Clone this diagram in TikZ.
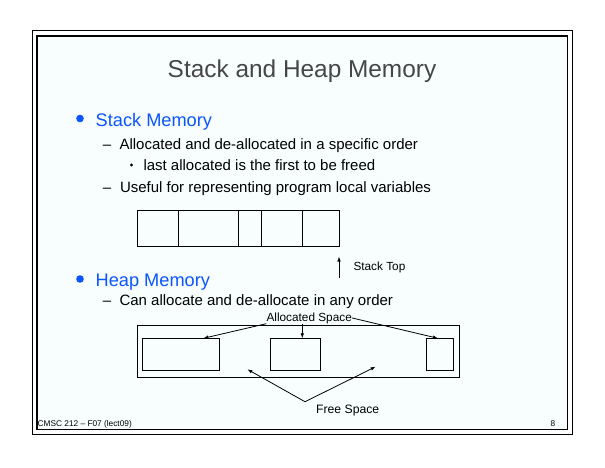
\documentclass[tikz,border=0pt]{standalone}
\usepackage{fontspec}
\setmainfont{Liberation Sans}
\usetikzlibrary{arrows.meta,calc}
\definecolor{bluetxt}{RGB}{10,85,255}
\definecolor{titlegray}{RGB}{70,70,70}
\definecolor{slidebg}{RGB}{248,254,254}
\begin{document}
\begin{tikzpicture}[x=1pt,y=-1pt,
  txt/.style={anchor=base west, inner sep=0pt, text=black, font=\fontsize{15}{18}\selectfont},
  head/.style={anchor=base west, inner sep=0pt, text=bluetxt, font=\fontsize{18.2}{22}\selectfont},
  small/.style={inner sep=0pt, text=black, font=\fontsize{11.8}{14}\selectfont},
  foot/.style={inner sep=0pt, text=black, font=\fontsize{8.3}{10}\selectfont},
  cell/.style={draw=black, line width=0.9pt, inner sep=0pt, minimum height=35.7pt},
  mbox/.style={draw=black, line width=0.9pt, inner sep=0pt, minimum height=32.4pt},
  arr/.style={draw=black, line width=0.8pt, -{Latex[length=5pt,width=3.6pt]}},
  frameline/.style={line width=1.2pt}]
\useasboundingbox (0,0) rectangle (605,467);
\fill[white] (0,0) rectangle (605,467);
% frames
\draw[frameline] (32.3,30.7) rectangle (572.7,434.3);
\draw[frameline, fill=slidebg] (37,36) rectangle (567.3,429.3);
% title
\node[anchor=base, inner sep=0pt, text=titlegray, font=\fontsize{24.4}{28}\selectfont] (title) at (302,77.5) {Stack and Heap Memory};
% stack memory bullet
\fill[bluetxt] (80,118.5) circle (3.8);
\node[head] (stackh) at (95.5,126) {Stack Memory};
\node[txt] (d1) at (102.7,149) {–};
\node[txt] (l1) at (119.3,149) {Allocated and de-allocated in a specific order};
\fill[black] (131.5,165) circle (1.7);
\node[txt] (l2) at (143.3,170.4) {last allocated is the first to be freed};
\node[txt] (d2) at (102.7,192.5) {–};
\node[txt] (l3) at (119.8,192.5) {Useful for representing program local variables};
% stack cells
\node[cell, minimum width=41.4pt] (s1) at (158,228.15) {};
\node[cell, minimum width=60pt] (s2) at (208.7,228.15) {};
\node[cell, minimum width=23pt] (s3) at (250.2,228.15) {};
\node[cell, minimum width=40.6pt] (s4) at (282,228.15) {};
\node[cell, minimum width=37pt] (s5) at (320.8,228.15) {};
% stack top
\coordinate (st1) at (339,278);
\coordinate (st2) at (339,256.5);
\draw[arr] (st1) -- (st2);
\node[small, anchor=base west] (stop) at (353.3,270.2) {Stack Top};
% heap memory bullet
\fill[bluetxt] (80,279) circle (3.8);
\node[head] (heaph) at (95.5,286) {Heap Memory};
\node[txt] (d3) at (102.7,305.7) {–};
\node[txt] (l4) at (119.3,305.7) {Can allocate and de-allocate in any order};
% heap boxes
\node[draw=black, line width=0.9pt, inner sep=0pt, minimum width=321.7pt, minimum height=52.3pt] (heap) at (298.15,351.15) {};
\node[mbox, minimum width=77pt] (b1) at (180.8,354.5) {};
\node[mbox, minimum width=50pt] (b2) at (295.3,354.5) {};
\node[mbox, minimum width=27.7pt] (b3) at (439.85,354.5) {};
% allocated space
\node[small, anchor=base] (alloc) at (309.2,321) {Allocated Space};
\coordinate (a1) at (203.3,338.3);
\coordinate (a2) at (302.3,338.3);
\coordinate (a3) at (438,338.3);
\draw[arr] (alloc.south west) -- (a1);
\draw[arr] (alloc.south -| a2) -- (a2);
\draw[arr] (alloc.east) -- (a3);
% free space
\node[small, anchor=base, font=\fontsize{12.2}{14}\selectfont] (free) at (347.7,413) {Free Space};
\coordinate (fs) at (305,401.7);
\coordinate (f1) at (247.3,369.3);
\coordinate (f2) at (375.7,366.7);
\draw[arr] (fs) -- (f1);
\draw[arr] (fs) -- (f2);
% footer
\node[foot, anchor=base west] (footl) at (37.5,426) {CMSC 212 – F07 (lect09)};
\node[foot, anchor=base] (footr) at (553,426) {8};
\end{tikzpicture}
\end{document}
